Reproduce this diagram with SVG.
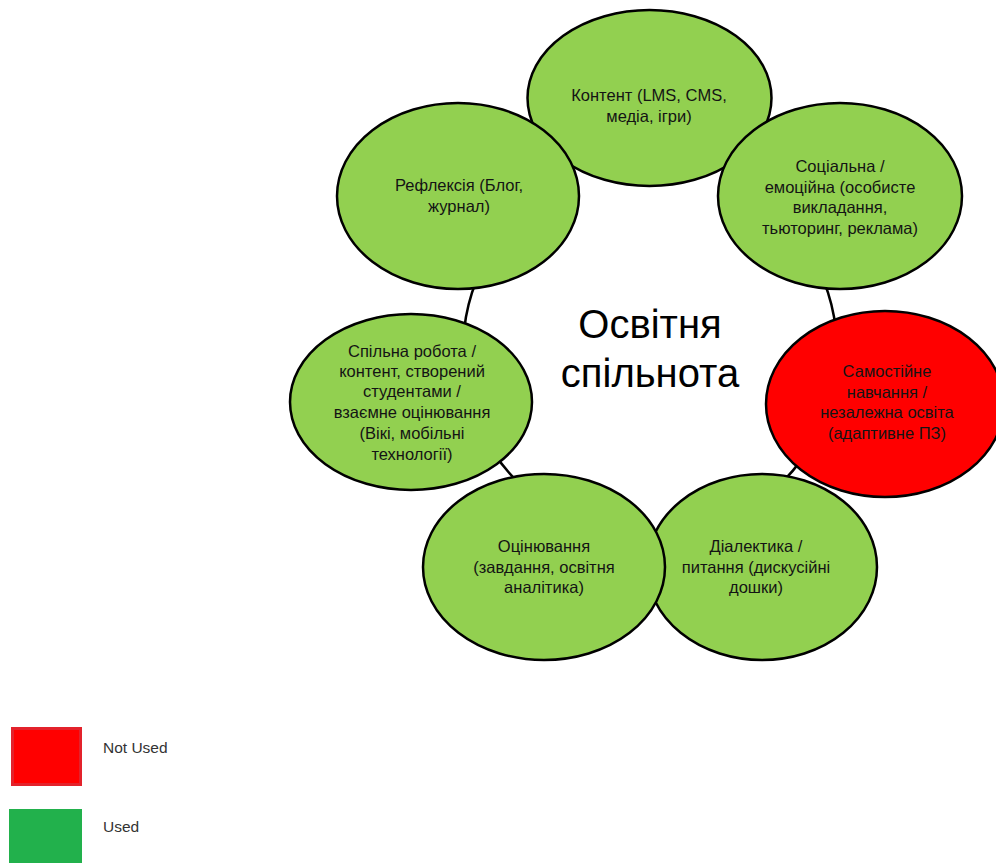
<svg xmlns="http://www.w3.org/2000/svg" width="996" height="863" viewBox="0 0 996 863">
<style>
.g{fill:#92D050;stroke:#000;stroke-width:2.5}
.r{fill:#FF0000;stroke:#000;stroke-width:2.5}
.c{fill:none;stroke:#000;stroke-width:2.5}
.t{font-family:"Liberation Sans",Arial,sans-serif;font-size:16.5px;fill:#141414;text-anchor:middle}
.big{font-family:"Liberation Sans",Arial,sans-serif;font-size:40px;fill:#000;text-anchor:middle}
.lg{font-family:"Liberation Sans",Arial,sans-serif;font-size:15.5px;fill:#333}
</style>
<rect width="996" height="863" fill="#fff"/>
<g id="connectors">
<path class="c" d="M476.6,280 A187,187 0 0 0 464.1,330"/>
<path class="c" d="M492,450 A187,187 0 0 0 526,490"/>
<path class="c" d="M823.4,280 A187,187 0 0 1 835.9,330"/>
<path class="c" d="M808,450 A187,187 0 0 1 774,490"/>
</g>
<g id="center">
<text class="big" x="650" y="338">Освітня</text>
<text class="big" x="650" y="387">спільнота</text>
</g>
<g id="n-content">
<ellipse class="g" cx="649.5" cy="98" rx="122" ry="88"/>
<text class="t" x="649" y="101">Контент (LMS, CMS,</text>
<text class="t" x="649" y="122">медіа, ігри)</text>
</g>
<g id="n-reflection">
<ellipse class="g" cx="458" cy="196" rx="121" ry="93"/>
<text class="t" x="459" y="191">Рефлексія (Блог,</text>
<text class="t" x="459" y="212">журнал)</text>
</g>
<g id="n-social">
<ellipse class="g" cx="840" cy="196" rx="122" ry="93"/>
<text class="t" x="840" y="172">Соціальна /</text>
<text class="t" x="840" y="193">емоційна (особисте</text>
<text class="t" x="840" y="213">викладання,</text>
<text class="t" x="840" y="234">тьюторинг, реклама)</text>
</g>
<g id="n-collab">
<ellipse class="g" cx="411" cy="402" rx="121" ry="88"/>
<text class="t" x="412" y="357">Спільна робота /</text>
<text class="t" x="412" y="377">контент, створений</text>
<text class="t" x="412" y="397">студентами /</text>
<text class="t" x="412" y="418">взаємне оцінювання</text>
<text class="t" x="412" y="439">(Вікі, мобільні</text>
<text class="t" x="412" y="460">технології)</text>
</g>
<g id="n-self">
<ellipse class="r" cx="885" cy="404" rx="119" ry="93"/>
<text class="t" x="887" y="377">Самостійне</text>
<text class="t" x="887" y="398">навчання /</text>
<text class="t" x="887" y="418">незалежна освіта</text>
<text class="t" x="887" y="439">(адаптивне ПЗ)</text>
</g>
<g id="n-dialectic">
<ellipse class="g" cx="762" cy="567" rx="115" ry="93"/>
<text class="t" x="756" y="552">Діалектика /</text>
<text class="t" x="756" y="573">питання (дискусійні</text>
<text class="t" x="756" y="593">дошки)</text>
</g>
<g id="n-assessment">
<ellipse class="g" cx="544" cy="567" rx="121" ry="93"/>
<text class="t" x="544" y="552">Оцінювання</text>
<text class="t" x="544" y="573">(завдання, освітня</text>
<text class="t" x="544" y="593">аналітика)</text>
</g>
<g id="legend">
<rect x="12.5" y="728.5" width="68" height="56" fill="#FF0000" stroke="#E3222B" stroke-width="3"/>
<text class="lg" x="103" y="753">Not Used</text>
<rect x="9" y="809" width="73" height="54" fill="#22B14C"/>
<text class="lg" x="103" y="832">Used</text>
</g>
</svg>
